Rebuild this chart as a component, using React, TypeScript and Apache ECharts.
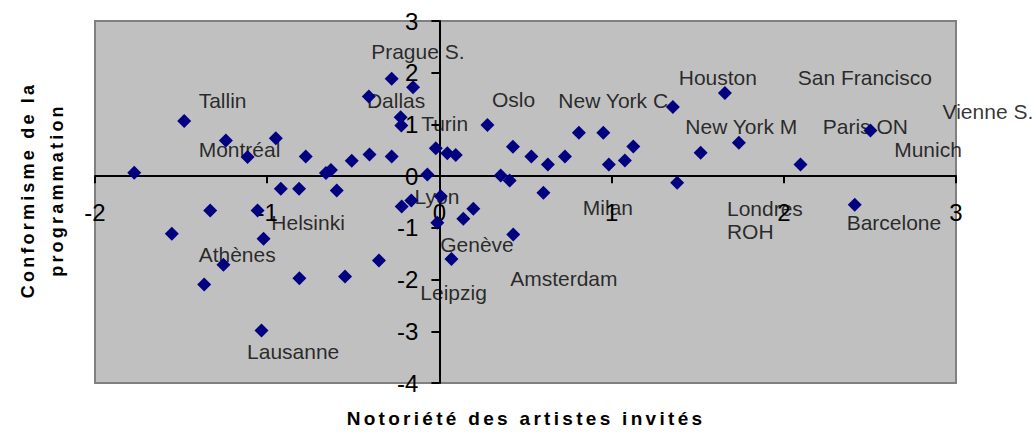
import React, { useEffect, useRef } from "react";
import * as echarts from "echarts";

// Notoriété des artistes invités (x) / Conformisme de la programmation (y)
const notoriete = [
  -1.772, -1.482, -1.24, -1.114, -0.95, -0.776, -0.659, -0.63, -0.509, -0.406,
  -0.41, -0.921, -0.815, -0.596, -0.277, -0.153, -0.225, -0.221, -0.277, -0.07,
  -0.021, 0.046, 0.095, 0.279, 0.427, 0.356, 0.408, 0.534, 0.63, 0.729,
  0.81, 0.952, 0.984, 1.077, 1.126, 0.008, 1.356, 1.658, 1.517, 1.739,
  2.097, 2.503, 1.381, -1.331, -1.056, -1.554, -1.021, -1.254, -1.366, -0.813,
  -0.548, -0.351, -1.033, 0.604, -0.219, -0.163, -0.012, 0.139, 0.197, 0.429,
  0.07, 2.412,
];
const conformisme = [
  0.066, 1.064, 0.69, 0.37, 0.735, 0.38, 0.062, 0.12, 0.3, 0.42,
  1.54, -0.244, -0.244, -0.277, 1.884, 1.72, 1.14, 0.98, 0.38, 0.033,
  0.54, 0.445, 0.41, 0.99, 0.57, 0.013, -0.083, 0.38, 0.226, 0.38,
  0.84, 0.84, 0.226, 0.304, 0.574, -0.39, 1.335, 1.61, 0.45, 0.646,
  0.226, 0.884, -0.128, -0.663, -0.663, -1.114, -1.21, -1.714, -2.095, -1.973,
  -1.94, -1.63, -2.985, -0.32, -0.586, -0.47, -0.9, -0.825, -0.63, -1.128,
  -1.6, -0.553,
];

// City labels, anchored (left edge, middle) at data coordinates
const cityNames = [
  "Tallin", "Montréal", "Prague S.", "Dallas", "Turin", "Oslo", "New York C.",
  "Houston", "San Francisco", "New York M", "Paris ON", "Vienne S.", "Munich",
  "Helsinki", "Athènes", "Lausanne", "Lyon", "Milan", "Genève", "Amsterdam",
  "Leipzig", "Londres\nROH", "Barcelone",
];
const cityX = [
  -1.401, -1.401, -0.399, -0.424, -0.109, 0.302, 0.688,
  1.387, 2.078, 1.425, 2.223, 2.919, 2.638,
  -0.979, -1.401, -1.12, -0.147, 0.83, 0.002, 0.408,
  -0.114, 1.667, 2.362,
];
const cityY = [
  1.455, 0.516, 2.412, 1.455, 1.014, 1.484, 1.455,
  1.899, 1.899, 0.965, 0.965, 1.255, 0.516,
  -0.89, -1.524, -3.387, -0.398, -0.6, -1.325, -1.988,
  -2.259, -0.855, -0.89,
];

const xTitle = "Notoriété des artistes invités";
const yTitleLines = ["Conformisme de la", "programmation"];

const X_MIN = -2, X_MAX = 3, Y_MIN = -4, Y_MAX = 3;
const GRID = { left: 95, top: 21, width: 861, height: 362 };

export default function App() {
  const ref = useRef<HTMLDivElement>(null);
  useEffect(() => {
    document.body.style.margin = "0";
    const chart = echarts.init(ref.current!, null, { renderer: "svg" });
    const font = "Liberation Sans";
    // place each axis (line, ticks and labels) on the other axis' zero
    const yZeroPx = GRID.top + (GRID.height * Y_MAX) / (Y_MAX - Y_MIN);
    const xZeroPx = GRID.left + (GRID.width * (0 - X_MIN)) / (X_MAX - X_MIN);
    const xOffset = yZeroPx - (GRID.top + GRID.height);
    const yOffset = -(xZeroPx - GRID.left);
    chart.setOption({
      animation: false,
      grid: {
        ...GRID,
        show: true,
        backgroundColor: "#C0C0C0",
        borderColor: "#808080",
        borderWidth: 2,
      },
      xAxis: {
        type: "value",
        min: X_MIN,
        max: X_MAX,
        interval: 1,
        offset: xOffset,
        axisLine: { onZero: false, lineStyle: { color: "#000", width: 2 } },
        splitLine: { show: false },
        axisTick: { show: true, length: 7, lineStyle: { color: "#000", width: 2 } },
        axisLabel: { margin: 24, fontSize: 24, color: "#000", fontFamily: font },
      },
      yAxis: {
        type: "value",
        min: Y_MIN,
        max: Y_MAX,
        interval: 1,
        offset: yOffset,
        axisLine: { onZero: false, lineStyle: { color: "#000", width: 2 } },
        splitLine: { show: false },
        axisTick: { show: true, length: 8, lineStyle: { color: "#000", width: 2 } },
        axisLabel: { margin: 21, fontSize: 24, color: "#000", fontFamily: font },
      },
      series: [
        {
          type: "scatter",
          z: 2,
          silent: true,
          symbol: "rect",
          symbolSize: 1,
          itemStyle: { color: "rgba(0,0,0,0)" },
          label: {
            show: true,
            position: "right",
            distance: 0,
            formatter: "{b}",
            fontSize: 21,
            lineHeight: 23,
            color: "#000",
            fontFamily: font,
          },
          data: cityNames.map((n, i) => ({ name: n, value: [cityX[i], cityY[i]] })),
        },
        {
          type: "scatter",
          z: 3,
          symbol: "diamond",
          symbolSize: 14,
          itemStyle: { color: "#000080", opacity: 1 },
          data: notoriete.map((x, i) => [x, conformisme[i]]),
        },
      ],
      graphic: [
        {
          type: "text",
          x: 526,
          y: 418,
          style: {
            text: xTitle,
            fontSize: 19,
            fontWeight: "bold",
            fontFamily: font,
            fill: "#000",
            textAlign: "center",
            textVerticalAlign: "middle",
            align: "center",
            verticalAlign: "middle",
          },
        },
        ...yTitleLines.map((t, i) => ({
          type: "text",
          x: i === 0 ? 28 : 57,
          y: 190,
          rotation: Math.PI / 2,
          style: {
            text: t,
            fontSize: 18,
            fontWeight: "bold",
            fontFamily: font,
            fill: "#000",
            textAlign: "center",
            textVerticalAlign: "middle",
            align: "center",
            verticalAlign: "middle",
          },
        })),
      ],
    });
    return () => chart.dispose();
  }, []);
  return (
    <>
      <style>{`#root svg text[style*="19px"]{letter-spacing:3.3px} #root svg text[style*="18px"]{letter-spacing:3.2px}`}</style>
      <div ref={ref} style={{ width: 1036, height: 439 }} />
    </>
  );
}
